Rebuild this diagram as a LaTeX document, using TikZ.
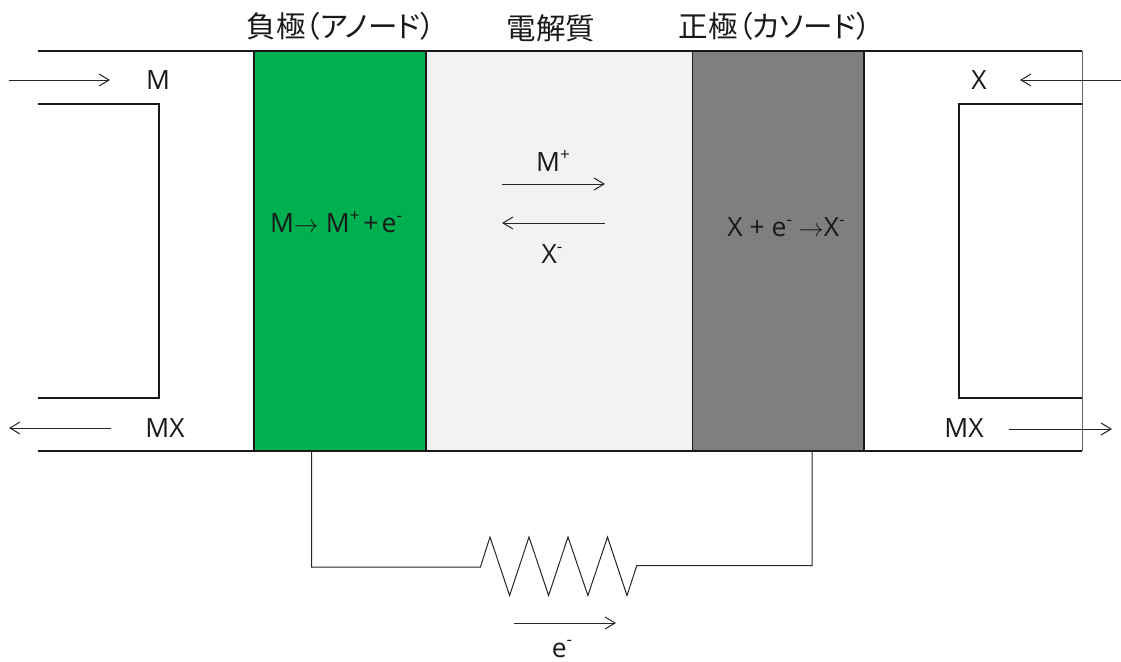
\documentclass[tikz,border=0pt]{standalone}
\usepackage{fontspec}
\setmainfont{Open Sans}
\newfontfamily\cjkfont[RawFeature=+palt]{Noto Sans CJK JP}
\usetikzlibrary{arrows.meta}
\newcommand{\upsc}[1]{\raisebox{0.42em}{\fontsize{17}{17}\selectfont #1}}
\newcommand{\rarrow}{\ensuremath{\rightarrow}}
\tikzset{
  x=1pt,y=-1pt,
  wall/.style={line width=1.6pt,draw=black!90},
  thin wire/.style={line width=1pt,draw=black!85},
  flow/.style={line width=1pt,draw=black!85,-{Straight Barb[length=10pt,width=12pt,line width=1pt]}},
  lab/.style={font=\fontsize{26.5}{30}\selectfont,inner sep=0pt,text=black!90},
  head/.style={font=\cjkfont\fontsize{29.5}{33}\selectfont,inner sep=0pt,text=black!90},
  cell/.style={draw=black!90,line width=1.6pt,minimum height=400pt,inner sep=0pt,outer sep=0pt,anchor=north west}
}
\begin{document}
\begin{tikzpicture}
\useasboundingbox (0,0) rectangle (1121,661);
% cells
\node[cell,minimum width=172pt,fill={rgb,255:red,0;green,176;blue,80}] (anode) at (254,51) {};
\node[cell,minimum width=266.5pt,fill={rgb,255:red,242;green,242;blue,242}] (elec) at (426,51) {};
\node[cell,minimum width=171.5pt,fill={rgb,255:red,127;green,127;blue,127}] (cath) at (692.5,51) {};
% corner coordinates
\coordinate (tl) at (38,51); \coordinate (tr) at (1082,51);
\coordinate (bl) at (38,451); \coordinate (br) at (1082,451);
\coordinate (il1) at (38,104); \coordinate (il2) at (159,104);
\coordinate (il3) at (159,398); \coordinate (il4) at (38,398);
\coordinate (ir1) at (1082,104); \coordinate (ir2) at (959,104);
\coordinate (ir3) at (959,398); \coordinate (ir4) at (1082,398);
\draw[wall] (tl) -- (tr);
\draw[wall] (bl) -- (br);
\draw[wall] (il1) -- (il2) -- (il3) -- (il4);
\draw[wall] (ir1) -- (ir2) -- (ir3) -- (ir4);
\draw[line width=1pt,draw=black!60] (tr) -- (br);
% headings
\node[head] (h1) at (341,26) {負極（アノード）};
\node[head] (h2) at (551,28) {電解質};
\node[head] (h3) at (775,26) {正極（カソード）};
% labels
\node[lab] (m) at (158,80) {M};
\node[lab] (mx1) at (165,428) {MX};
\node[lab] (x) at (979,80) {X};
\node[lab] (mx2) at (964,428) {MX};
\node[lab] (mp) at (553,161) {M\upsc{+}};
\node[lab] (xm) at (552,254) {X\upsc{-}};
\node[lab] (r1) at (336,222) {M\rarrow{}\hspace{7pt}M\upsc{+}\hspace{4pt}+\hspace{3pt}e\upsc{-}};
\node[lab] (r2) at (786,227) {X + e\upsc{-} \rarrow{}X\upsc{-}};
\node[lab] (em) at (562,649) {e\upsc{-}};
% flow arrows
\coordinate (a1s) at (9,80); \coordinate (a1e) at (110,80);
\coordinate (a2s) at (111,428); \coordinate (a2e) at (9,428);
\coordinate (a3s) at (1121,80); \coordinate (a3e) at (1020,80);
\coordinate (a4s) at (1009,429); \coordinate (a4e) at (1112,429);
\coordinate (a5s) at (502,184); \coordinate (a5e) at (605,184);
\coordinate (a6s) at (605,223); \coordinate (a6e) at (502,223);
\coordinate (a7s) at (514,623); \coordinate (a7e) at (616,623);
\draw[flow] (a1s) -- (a1e);
\draw[flow] (a2s) -- (a2e);
\draw[flow] (a3s) -- (a3e);
\draw[flow] (a4s) -- (a4e);
\draw[flow] (a5s) -- (a5e);
\draw[flow] (a6s) -- (a6e);
\draw[flow] (a7s) -- (a7e);
% external circuit
\coordinate (c1) at (311.5,451); \coordinate (c2) at (311.5,567);
\coordinate (c3) at (812,451); \coordinate (c4) at (812,565.5);
\draw[thin wire,line join=miter] (c1) -- (c2) -- (480.4,567) -- (490,537) -- (509.6,595.5) -- (529,537) -- (548.6,595.5) -- (568,537) -- (587.9,595.5) -- (607.5,537) -- (627,595.5) -- (636.8,565.5) -- (c4) -- (c3);
\end{tikzpicture}
\end{document}
